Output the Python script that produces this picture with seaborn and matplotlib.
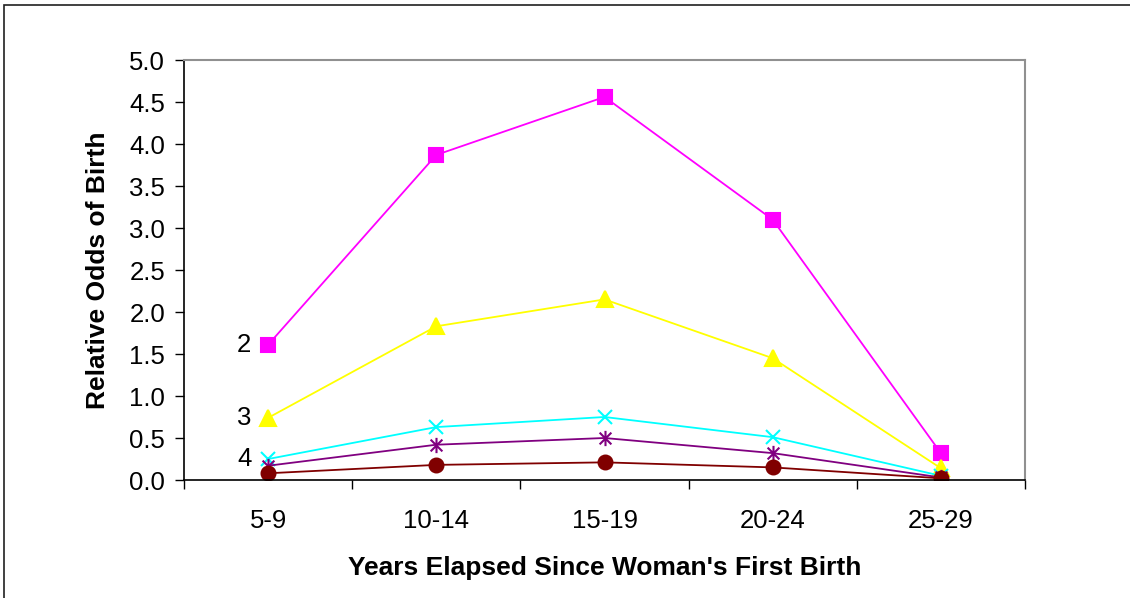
import matplotlib
matplotlib.use("Agg")
import pandas as pd
import seaborn as sns
import matplotlib.pyplot as plt
from matplotlib.path import Path
from matplotlib.patches import Rectangle

sns.set_style("white")
plt.rcParams["font.family"] = ["Liberation Sans", "DejaVu Sans"]
plt.rcParams["text.color"] = "black"
plt.rcParams["xtick.color"] = "black"
plt.rcParams["ytick.color"] = "black"
plt.rcParams["axes.labelcolor"] = "black"

periods = ["5-9", "10-14", "15-19", "20-24", "25-29"]

parity_2 = [1.61, 3.87, 4.56, 3.10, 0.32]
parity_3 = [0.74, 1.83, 2.15, 1.45, 0.14]
parity_4 = [0.25, 0.63, 0.75, 0.51, 0.05]
parity_5 = [0.17, 0.42, 0.50, 0.32, 0.03]
parity_6 = [0.08, 0.18, 0.21, 0.15, 0.02]

series_names = ["2", "3", "4", "5", "6"]
series_labels = ["2", "3", "4", "", ""]

# excel style asterisk: x with a vertical bar
star = Path(
    [(-1, -1), (1, 1), (-1, 1), (1, -1), (0, -1.3), (0, 1.3)],
    [Path.MOVETO, Path.LINETO, Path.MOVETO, Path.LINETO, Path.MOVETO, Path.LINETO],
)

styles = {
    "2": dict(color="#ff00ff", marker="s", ms=9.5),
    "3": dict(color="#ffff00", marker="^", ms=11),
    "4": dict(color="#00ffff", marker="x", ms=10),
    "5": dict(color="#800080", marker=star, ms=11),
    "6": dict(color="#800000", marker="o", ms=10),
}

values = [parity_2, parity_3, parity_4, parity_5, parity_6]
df = pd.DataFrame(
    {
        "period": periods * len(series_names),
        "odds": [v for vals in values for v in vals],
        "parity": [n for n in series_names for _ in periods],
    }
)

fig = plt.figure(figsize=(11.3, 5.98), dpi=100)
ax = fig.add_axes([184 / 1130, 1 - 480 / 598, 841 / 1130, 420 / 598])

for name in series_names:
    st = styles[name]
    sub = df[df["parity"] == name]
    sns.lineplot(
        data=sub,
        x="period",
        y="odds",
        ax=ax,
        color=st["color"],
        marker=st["marker"],
        markersize=st["ms"],
        markeredgecolor=st["color"],
        markeredgewidth=1.5,
        linewidth=1.3,
        sort=False,
    )

for name, label, vals in zip(series_names, series_labels, values):
    if label:
        ax.text(-0.1, vals[0], label, ha="right", va="center", fontsize=18.5)

ax.set_xlim(-0.5, 4.5)
ax.set_ylim(0, 5)
ax.set_yticks([i * 0.5 for i in range(11)])
ax.yaxis.set_major_formatter(matplotlib.ticker.FormatStrFormatter("%.1f"))
ax.set_xticks(range(len(periods)))
ax.set_xticklabels(periods)
ax.set_xticks([i - 0.5 for i in range(len(periods) + 1)], minor=True)

ax.tick_params(axis="x", which="major", length=0, pad=21, labelsize=18.5)
ax.tick_params(axis="x", which="minor", length=6.5, width=1, color="black", direction="out", bottom=True)
ax.tick_params(axis="y", length=6.5, width=1, color="black", direction="out", pad=7, labelsize=18.5, left=True)

for side in ["left", "bottom"]:
    ax.spines[side].set_color("black")
    ax.spines[side].set_linewidth(1.2)
for side in ["top", "right"]:
    ax.spines[side].set_color("#909090")
    ax.spines[side].set_linewidth(1.5)

ax.set_xlabel("Years Elapsed Since Woman's First Birth", fontsize=19, fontweight="bold")
ax.set_ylabel("Relative Odds of Birth", fontsize=19, fontweight="bold")
ax.xaxis.set_label_coords(0.5, -0.18)
ax.yaxis.set_label_coords(-0.088, 0.5)

# outer chart border (cut off at right and bottom like the source)
fig.patches.append(
    Rectangle(
        (4 / 1130, -0.1), 1.2, 1 - 5 / 598 + 0.1,
        transform=fig.transFigure, fill=False, edgecolor="#202020", linewidth=1.2,
    )
)

fig.savefig("out.png", dpi=100)
